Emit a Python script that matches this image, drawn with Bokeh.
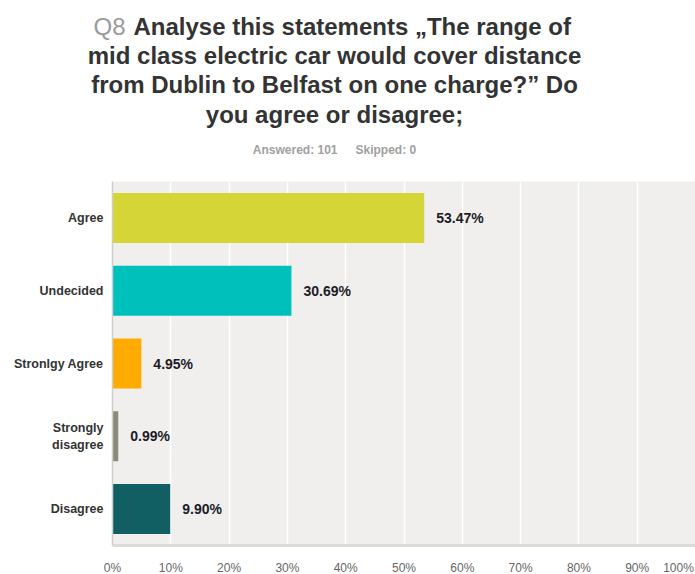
from bokeh.plotting import figure
from bokeh.layouts import column
from bokeh.models import ColumnDataSource, LabelSet, FactorRange, Range1d, FixedTicker
from bokeh.core.properties import value
from bokeh.embed import file_html
from bokeh.resources import INLINE

# ---- data ----
categories = ["Agree", "Undecided", "Stronlgy Agree", "Strongly\ndisagree", "Disagree"]
values = [53.47, 30.69, 4.95, 0.99, 9.90]
bar_colors = ["#d5d538", "#00c0bb", "#ffab00", "#8c8b79", "#115e63"]
tick_values = [0, 10, 20, 30, 40, 50, 60, 70, 80, 90, 100]
tick_labels = ["0%", "10%", "20%", "30%", "40%", "50%", "60%", "70%", "80%", "90%", "100%"]

title_prefix = "Q8"
title_lines = [
    "Analyse this statements \u201eThe range of",
    "mid class electric car would cover distance",
    "from Dublin to Belfast on one charge?\u201d Do",
    "you agree or disagree;",
]
answered_text = "Answered: 101"
skipped_text = "Skipped: 0"

FONT = "Liberation Sans"
W = 695
HEADER_H = 181
CHART_H = 367
STRIP_H = 574 - HEADER_H - CHART_H
FRAME_LEFT = 112
FRAME_W = W - FRAME_LEFT


def base(y, size):
    # text glyph anchors the bottom of a 1.2 line box; shift to put the baseline at y
    return y - 0.31 * size


# ---- header (title texts), pixel coordinates from top-left ----
header = figure(width=W, height=HEADER_H, x_range=Range1d(0, W), y_range=Range1d(HEADER_H, 0),
                output_backend="svg", toolbar_location=None,
                x_axis_location=None, y_axis_location=None,
                min_border_left=0, min_border_right=0, min_border_top=0, min_border_bottom=0)
header.grid.visible = False
header.outline_line_color = None
header.background_fill_color = "white"
header.border_fill_color = "white"

header.text(x=[93], y=[base(33, 24)], text=[title_prefix], text_font=value(FONT), text_font_size="24px",
            text_color="#9a9a9a", text_align="left", text_baseline="alphabetic")
header.text(x=[133], y=[base(33, 24)], text=[title_lines[0]], text_font=value(FONT), text_font_size="24px",
            text_font_style="bold", text_color="#333333", text_align="left", text_baseline="alphabetic")
header.text(x=[334] * 3, y=[base(62.3, 24), base(91.7, 24), base(121, 24)], text=title_lines[1:],
            text_font=value(FONT), text_font_size="24px",
            text_font_style="bold", text_color="#333333", text_align="center", text_baseline="alphabetic")
header.text(x=[337], y=[base(153, 12)], text=[answered_text], text_font=value(FONT), text_font_size="12px",
            text_font_style="bold", text_color="#a0a0a0", text_align="right", text_baseline="alphabetic")
header.text(x=[355], y=[base(153, 12)], text=[skipped_text], text_font=value(FONT), text_font_size="12px",
            text_font_style="bold", text_color="#a0a0a0", text_align="left", text_baseline="alphabetic")

# ---- chart ----
source = ColumnDataSource(dict(
    cats=categories,
    vals=values,
    colors=bar_colors,
    labels=["%.2f%%" % v for v in values],
))

p = figure(
    width=W, height=CHART_H,
    y_range=FactorRange(factors=list(reversed(categories))),
    x_range=Range1d(0, 100),
    output_backend="svg", toolbar_location=None,
    min_border_left=FRAME_LEFT, min_border_right=0, min_border_top=0, min_border_bottom=3,
)
p.background_fill_color = "#f0efed"
p.border_fill_color = "white"
p.outline_line_color = None

p.hbar(y="cats", right="vals", left=0, height=0.687, color="colors", source=source, line_color=None)

p.add_layout(LabelSet(x="vals", y="cats", text="labels", source=source, x_offset=12,
                      text_baseline="middle", text_align="left",
                      text_font=value(FONT), text_font_size="14px", text_font_style="bold",
                      text_color="#1c1c28"))

p.ygrid.grid_line_color = None
p.xgrid.grid_line_color = "white"
p.xgrid.grid_line_width = 1.5
p.xgrid.ticker = FixedTicker(ticks=tick_values)

xa = p.xaxis[0]
xa.ticker = FixedTicker(ticks=[])
xa.axis_line_color = "#dddcd8"
xa.axis_line_width = 3
xa.major_tick_line_color = None
xa.minor_tick_line_color = None
xa.major_tick_out = 0
xa.major_tick_in = 0
xa.major_label_standoff = 0

ya = p.yaxis[0]
ya.axis_line_color = "#cfceca"
ya.axis_line_width = 1.5
ya.major_tick_line_color = None
ya.minor_tick_line_color = None
ya.major_tick_out = 0
ya.major_tick_in = 0
ya.major_label_text_font = FONT
ya.major_label_text_font_size = "12.5px"
ya.major_label_text_font_style = "bold"
ya.major_label_text_color = "#333333"
ya.major_label_standoff = 9

# ---- x tick labels strip (same x scale as the chart) ----
x0 = -100.0 * FRAME_LEFT / FRAME_W
strip = figure(width=W, height=STRIP_H, x_range=Range1d(x0, 100), y_range=Range1d(STRIP_H, 0),
               output_backend="svg", toolbar_location=None,
               x_axis_location=None, y_axis_location=None,
               min_border_left=0, min_border_right=0, min_border_top=0, min_border_bottom=0)
strip.grid.visible = False
strip.outline_line_color = None
strip.background_fill_color = "white"
strip.border_fill_color = "white"
offsets = [0] * (len(tick_values) - 1) + [-17]
strip.text(x=tick_values, y=[base(STRIP_H - 3, 12)] * len(tick_values), text=tick_labels, x_offset=offsets,
           text_font=value(FONT), text_font_size="12px", text_color="#666666",
           text_align="center", text_baseline="alphabetic")

for f in (header, p, strip):
    if "frame_align" in f.properties():
        f.frame_align = False

layout = column(header, p, strip, spacing=0)
open("out.html", "w").write(file_html(layout, INLINE))
